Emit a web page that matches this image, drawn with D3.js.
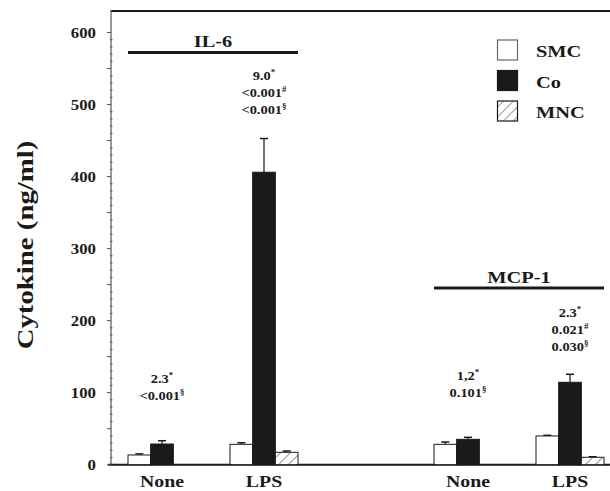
<!DOCTYPE html>
<html><head><meta charset="utf-8">
<script src="https://cdn.jsdelivr.net/npm/d3@7"></script>
<style>body{margin:0;background:#fff}svg{display:block}text{font-family:"Liberation Serif","Times New Roman",serif;font-weight:bold;fill:#1a1a1a}</style>
</head><body><svg id="c" width="610" height="491"></svg>
<script>
const groups = ["IL-6 None","IL-6 LPS","gap","MCP-1 None","MCP-1 LPS"];
const groupLabels = ["None","LPS","","None","LPS"];
const series = ["SMC","Co","MNC"];
const smcValues = [13.5, 28.3, null, 28.3, 39.9];
const smcErrors = [15, 30.5, null, 31.5, 40.8];
const coValues = [28.7, 406, null, 35.2, 114.4];
const coErrors = [33.3, 452.8, null, 38, 125.5];
const mncValues = [null, 17.2, null, null, 10.3];
const mncErrors = [null, 19, null, null, 11];
const yTicks = [0,100,200,300,400,500,600];
const cytokines = ["IL-6","MCP-1"];
const annotations = [
  {group:"IL-6 None", lines:[["2.3","*"],["<0.001","§"]]},
  {group:"IL-6 LPS", lines:[["9.0","*"],["<0.001","#"],["<0.001","§"]]},
  {group:"MCP-1 None", lines:[["1,2","*"],["0.101","§"]]},
  {group:"MCP-1 LPS", lines:[["2.3","*"],["0.021","#"],["0.030","§"]]}
];

const svg = d3.select("#c");
const SX = 1.2;
const ink = "#1a1a1a";
const y = d3.scaleLinear().domain([0,600]).range([464.7,32.5]);
const x = d3.scaleBand().domain(groups).range([128,604]).paddingInner(1/3).paddingOuter(0);
const xs = d3.scaleBand().domain(series).range([0,x.bandwidth()]);

// hatch pattern
const defs = svg.append("defs");
const pat = defs.append("pattern").attr("id","hatch").attr("patternUnits","userSpaceOnUse")
  .attr("width",7).attr("height",7).attr("patternTransform","rotate(45)");
pat.append("rect").attr("width",7).attr("height",7).attr("fill","#fff");
pat.append("line").attr("x1",0).attr("y1",0).attr("x2",0).attr("y2",7).attr("stroke",ink).attr("stroke-width",0.9);

function stext(g, x0, y0, size, anchor, parts) {
  const t = g.append("text").attr("transform",`translate(${x0},${y0}) scale(${SX},1)`)
    .attr("text-anchor",anchor).attr("font-size",size);
  parts.forEach(p => {
    const ts = t.append("tspan").text(p.t);
    if (p.sup) ts.attr("font-size",size*0.62).attr("dy",-size*0.4);
  });
  return t;
}

// frame: top line, left axis, bottom axis
svg.append("line").attr("x1",111).attr("x2",610).attr("y1",11).attr("y2",11).attr("stroke",ink).attr("stroke-width",2);
svg.append("line").attr("x1",111).attr("x2",111).attr("y1",10).attr("y2",y(0)).attr("stroke","#555").attr("stroke-width",1.2);
svg.append("line").attr("x1",108).attr("x2",610).attr("y1",y(0)).attr("y2",y(0)).attr("stroke",ink).attr("stroke-width",2);

// y ticks
const minor = d3.range(0,601,10);
svg.append("g").selectAll("line.mn").data(minor).join("line")
  .attr("x1", d => d%50===0 ? 107 : 110).attr("x2", d => d%50===0 ? 111 : 112.5)
  .attr("y1", d => y(d)).attr("y2", d => y(d)).attr("stroke","#555").attr("stroke-width",1);
yTicks.forEach(v => stext(svg, 96, y(v)+5, 14, "end", [{t:String(v)}]));

// y title
svg.append("text").attr("transform",`translate(33,245) rotate(-90) scale(${SX},1)`)
  .attr("text-anchor","middle").attr("font-size",24).text("Cytokine (ng/ml)");

// bars
const seriesData = {SMC:[smcValues,smcErrors], Co:[coValues,coErrors], MNC:[mncValues,mncErrors]};
const fills = {SMC:"#fff", Co:ink, MNC:"url(#hatch)"};
const barG = svg.append("g");
series.forEach(s => {
  const [vals, errs] = seriesData[s];
  groups.forEach((g,i) => {
    if (vals[i] == null) return;
    const bx = x(g) + xs(s), bw = xs.bandwidth();
    const cx = bx + bw/2;
    barG.append("line").attr("x1",cx).attr("x2",cx).attr("y1",y(vals[i])).attr("y2",y(errs[i])).attr("stroke",ink).attr("stroke-width",1.2);
    barG.append("line").attr("x1",cx-4).attr("x2",cx+4).attr("y1",y(errs[i])).attr("y2",y(errs[i])).attr("stroke",ink).attr("stroke-width",1.5);
    barG.append("rect").attr("x",bx).attr("y",y(vals[i])).attr("width",bw).attr("height",y(0)-y(vals[i]))
      .attr("fill",fills[s]).attr("stroke",ink).attr("stroke-width",1);
  });
});

// x labels
groups.forEach((g,i) => {
  if (!groupLabels[i]) return;
  stext(svg, x(g)+x.bandwidth()/2, 487, 16.5, "middle", [{t:groupLabels[i]}]);
});

// cytokine headers
const hdr = [{name:cytokines[0], g0:"IL-6 None", g1:"IL-6 LPS", ly:52.5, ty:46.5},
             {name:cytokines[1], g0:"MCP-1 None", g1:"MCP-1 LPS", ly:288, ty:282.5}];
hdr.forEach(h => {
  const x0 = x(h.g0), x1 = x(h.g1)+x.bandwidth();
  svg.append("line").attr("x1",x0).attr("x2",x1).attr("y1",h.ly).attr("y2",h.ly).attr("stroke",ink).attr("stroke-width",3);
  stext(svg, (x0+x1)/2, h.ty, 17, "middle", [{t:h.name}]);
});

// annotations
const annTop = {"IL-6 None":383, "IL-6 LPS":80, "MCP-1 None":380, "MCP-1 LPS":317};
annotations.forEach(a => {
  const cx = x(a.group)+x.bandwidth()/2;
  a.lines.forEach((ln,k) => {
    stext(svg, cx, annTop[a.group] + k*17, 12, "middle", [{t:ln[0]},{t:ln[1],sup:true}]);
  });
});

// legend
const lg = svg.append("g");
series.forEach((s,i) => {
  const ly = 40 + i*30.5;
  lg.append("rect").attr("x",497.5).attr("y",ly).attr("width",20).attr("height",20)
    .attr("fill",fills[s]).attr("stroke", s==="SMC" ? "#666" : ink).attr("stroke-width",1.2);
  stext(lg, 536, ly+17, 17, "start", [{t:s}]);
});
</script></body></html>
